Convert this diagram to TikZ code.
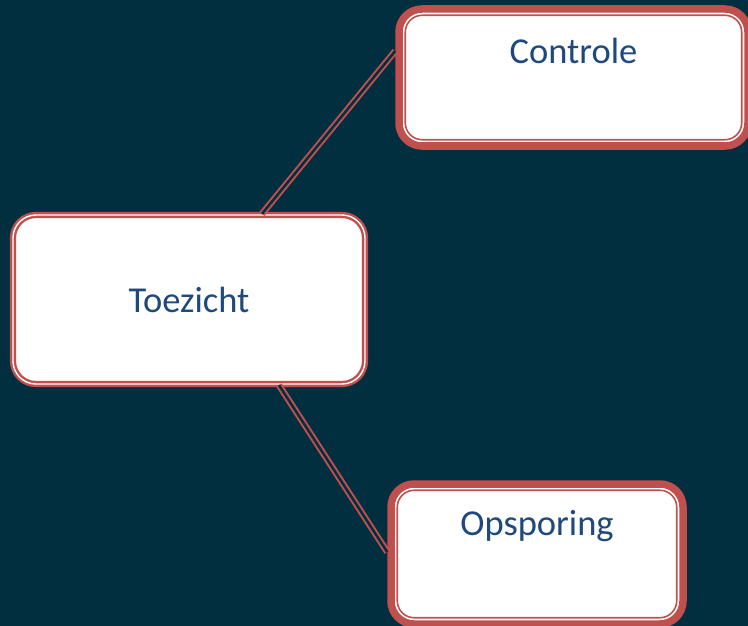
\documentclass[tikz,border=0pt]{standalone}
\usepackage{fontspec}
\setmainfont{Carlito}
\definecolor{slate}{HTML}{022F40}
\definecolor{brick}{HTML}{C0504D}
\definecolor{ink}{HTML}{1F497D}

\begin{document}
\begin{tikzpicture}[x=1pt,y=-1pt,
    big/.style={text=ink, font=\fontsize{36.5}{44}\selectfont},
    box/.style={draw=brick, fill=white, rounded corners=23pt, big},
    heavybox/.style={box, line width=7.5pt},
    twinbox/.style={box, line width=2.4pt, double=white, double distance=1.4pt},
    link/.style={draw=brick, line width=2pt, double=slate, double distance=2.5pt}]

    % Background
    \fill[slate] (0,0) rectangle (748,626);
    \useasboundingbox (0,0) rectangle (748,626);
    \clip (0,0) rectangle (748,626);

    % Boxes
    \node[twinbox, minimum width=352pt, minimum height=169pt] (toezicht) at (189,299.5) {Toezicht};
    \node[heavybox, minimum width=349pt, minimum height=137pt,
          label={[big, anchor=base, yshift=-58pt]north:Controle}] (controle) at (573.5,77.5) {};
    \node[heavybox, minimum width=292pt, minimum height=140pt,
          label={[big, anchor=base, yshift=-55pt]north:Opsporing}] (opsporing) at (537,554) {};

    % Inner lines
    \foreach \n in {controle,opsporing}
        \draw[brick, line width=1.6pt, rounded corners=17pt]
            ([shift={(10pt,-10pt)}]\n.north west) rectangle ([shift={(-10pt,10pt)}]\n.south east);

    % Connectors
    \draw[link] ([xshift=73pt]toezicht.north) -- ([yshift=26.5pt]controle.west);
    \draw[link] ([xshift=90pt]toezicht.south) -- ([yshift=2pt]opsporing.west);
\end{tikzpicture}
\end{document}
